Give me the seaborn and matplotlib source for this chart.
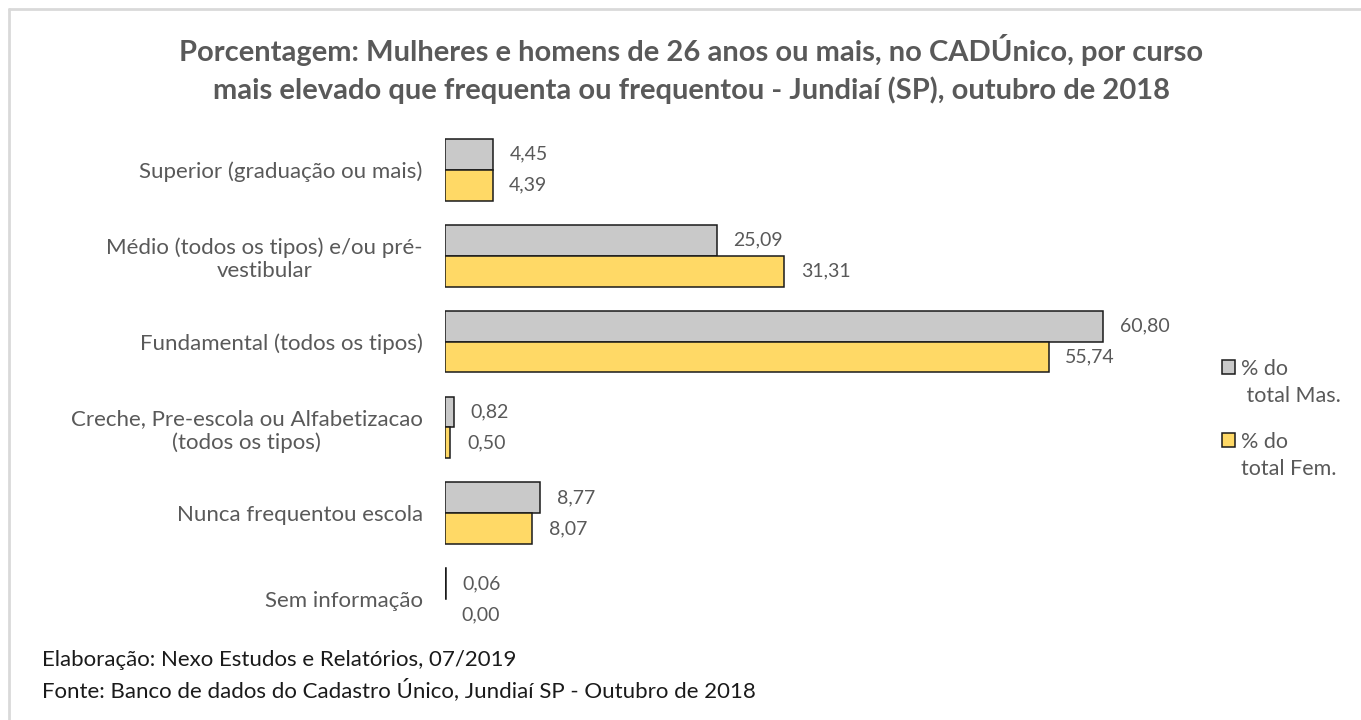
from matplotlib import pyplot as plt
from matplotlib.lines import Line2D
from matplotlib.patches import Patch, Rectangle
from matplotlib.legend_handler import HandlerPatch
import pandas as pd
import seaborn as sns

categorias = ['Superior (graduação ou mais)',
              'Médio (todos os tipos) e/ou pré-\nvestibular',
              'Fundamental (todos os tipos)',
              'Creche, Pre-escola ou Alfabetizacao\n(todos os tipos)',
              'Nunca frequentou escola',
              'Sem informação']
series = ['% do\n total Mas.', '% do\ntotal Fem.']
masculino = [4.45, 25.09, 60.80, 0.82, 8.77, 0.06]
feminino = [4.39, 31.31, 55.74, 0.50, 8.07, 0.00]

df = pd.DataFrame({
    'curso': categorias * 2,
    'serie': [series[0]] * 6 + [series[1]] * 6,
    'valor': masculino + feminino,
})

sns.set_theme(style='white')
plt.rcParams['font.family'] = ['Lato', 'DejaVu Sans']
cinza = '#595959'

fig = plt.figure(figsize=(13.61, 7.2), dpi=100)
ax = fig.add_axes([0.327, 0.108, 0.541, 0.716])

sns.barplot(data=df, x='valor', y='curso', hue='serie', order=categorias,
            hue_order=series, palette=['#C9C9C9', '#FFD966'], orient='h',
            width=0.72, saturation=1, edgecolor='#1a1a1a', linewidth=1.1, ax=ax)

# barras de valor zero nao aparecem
for cont in ax.containers:
    for p in cont:
        if p.get_width() == 0:
            p.set_linewidth(0)
    ax.bar_label(cont, labels=[f'{v:.2f}'.replace('.', ',') for v in cont.datavalues],
                 padding=12, color=cinza, fontsize=14)

ax.set_xlim(0, 68)
ax.set_xlabel('')
ax.set_ylabel('')
ax.set_xticks([])
ax.tick_params(axis='y', length=0, pad=16, labelsize=16, labelcolor=cinza)
for lab in ax.get_yticklabels():
    lab.set_multialignment('center')
sns.despine(ax=ax, left=True, bottom=True)


# marcador da legenda alinhado com a primeira linha do texto
def caixa(legend, orig_handle, xdescent, ydescent, width, height, fontsize):
    return Rectangle((-xdescent, -ydescent + 0.75 * fontsize), width, height)


leg = ax.legend(loc='upper left', bbox_to_anchor=(1.029, 0.587), frameon=False,
                fontsize=15.5, labelcolor=cinza, handlelength=0.6, handleheight=0.6,
                handletextpad=0.3, labelspacing=1.2,
                handler_map={Patch: HandlerPatch(patch_func=caixa)})
for h in leg.legend_handles:
    h.set_edgecolor('#1a1a1a')
    h.set_linewidth(1.1)
for t in leg.get_texts():
    t.set_linespacing(1.45)

fig.suptitle('Porcentagem: Mulheres e homens de 26 anos ou mais, no CADÚnico, por curso\n'
             'mais elevado que frequenta ou frequentou - Jundiaí (SP), outubro de 2018',
             x=0.508, y=0.953, fontsize=21, fontweight='bold', color=cinza,
             linespacing=1.45)

fig.text(0.031, 0.083, 'Elaboração: Nexo Estudos e Relatórios, 07/2019',
         fontsize=16, color='#1a1a1a', va='center')
fig.text(0.031, 0.042, 'Fonte: Banco de dados do Cadastro Único, Jundiaí SP - Outubro de 2018',
         fontsize=16, color='#1a1a1a', va='center')

fig.add_artist(Line2D([0.0066, 1], [0.9875, 0.9875], color='#d9d9d9', lw=2,
                      transform=fig.transFigure))
fig.add_artist(Line2D([0.0066, 0.0066], [0, 0.9875], color='#d9d9d9', lw=2,
                      transform=fig.transFigure))

fig.savefig('out.png', dpi=100)
